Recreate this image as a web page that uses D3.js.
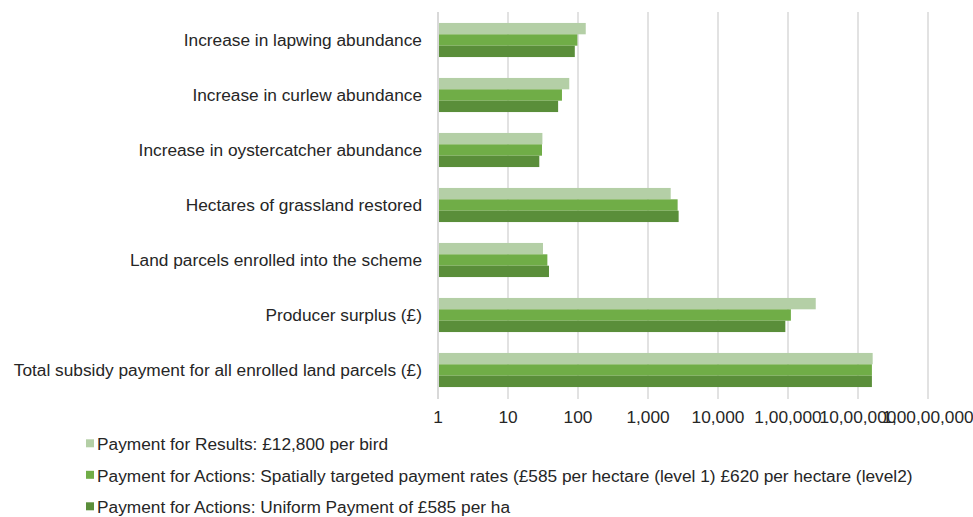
<!DOCTYPE html>
<html><head><meta charset="utf-8">
<script src="https://cdn.jsdelivr.net/npm/d3@7"></script>
<style>body{margin:0;background:#fff;font-family:"Liberation Sans",Arial,sans-serif;}</style>
</head><body><svg id="c" width="973" height="517"></svg>
<script>
const categories = [
  "Increase in lapwing abundance",
  "Increase in curlew abundance",
  "Increase in oystercatcher abundance",
  "Hectares of grassland restored",
  "Land parcels enrolled into the scheme",
  "Producer surplus (£)",
  "Total subsidy payment for all enrolled land parcels (£)"
];
const seriesNames = [
  "Payment for Results: £12,800 per bird",
  "Payment for Actions: Spatially targeted payment rates (£585 per hectare (level 1) £620 per hectare (level2)",
  "Payment for Actions: Uniform Payment of £585 per ha"
];
const resultsValues = [129, 75, 31, 2110, 31.6, 249000, 1620000];
const spatialValues = [98, 59, 30.6, 2650, 36.5, 110000, 1580000];
const uniformValues = [90, 52, 28, 2740, 38.5, 91600, 1580000];
const tickValues = [1, 10, 100, 1000, 10000, 100000, 1000000, 10000000];
const tickLabels = ["1", "10", "100", "1,000", "10,000", "1,00,000", "10,00,000", "1,00,00,000"];
const colors = ["#b4cfa6", "#70ad47", "#5a8e3a"];

const series = [resultsValues, spatialValues, uniformValues];
const svg = d3.select("#c");
const x = d3.scaleLog().domain([1, 1e7]).range([438, 928]);
const y = d3.scaleBand().domain(categories).range([12.5, 397.5]).paddingInner(0.38).paddingOuter(0.19);
const sub = d3.scaleBand().domain([0,1,2]).range([0, y.bandwidth()]);

// gridlines
svg.append("g").selectAll("line").data(tickValues).join("line")
  .attr("x1", d => x(d)).attr("x2", d => x(d))
  .attr("y1", 12).attr("y2", 399)
  .attr("stroke", "#d9d9d9").attr("stroke-width", 1.5);

// bars
categories.forEach((c, i) => {
  series.forEach((s, k) => {
    svg.append("rect")
      .attr("x", x(1))
      .attr("y", y(c) + sub(k))
      .attr("width", x(s[i]) - x(1))
      .attr("height", sub.bandwidth())
      .attr("fill", colors[k]);
  });
});
// axis line
svg.append("line").attr("x1", x(1)).attr("x2", x(1)).attr("y1", 12).attr("y2", 399)
  .attr("stroke", "#d9d9d9").attr("stroke-width", 2);

const fs = 17.3;
// tick labels
svg.append("g").selectAll("text").data(tickValues).join("text")
  .attr("x", d => x(d)).attr("y", 422.5)
  .attr("text-anchor", "middle").attr("font-size", fs).attr("fill", "#262626")
  .text((d, i) => tickLabels[i]);

// category labels
svg.append("g").selectAll("text").data(categories).join("text")
  .attr("x", 422).attr("y", d => y(d) + y.bandwidth()/2 + 6)
  .attr("text-anchor", "end").attr("font-size", fs).attr("fill", "#262626")
  .text(d => d);

// legend
const lg = svg.append("g");
seriesNames.forEach((n, k) => {
  const base = 450 + k * 31.5;
  lg.append("rect").attr("x", 86).attr("y", base - 10.7).attr("width", 8).attr("height", 8).attr("fill", colors[k]);
  lg.append("text").attr("x", 97).attr("y", base).attr("font-size", fs).attr("fill", "#262626").text(n);
});
</script></body></html>
